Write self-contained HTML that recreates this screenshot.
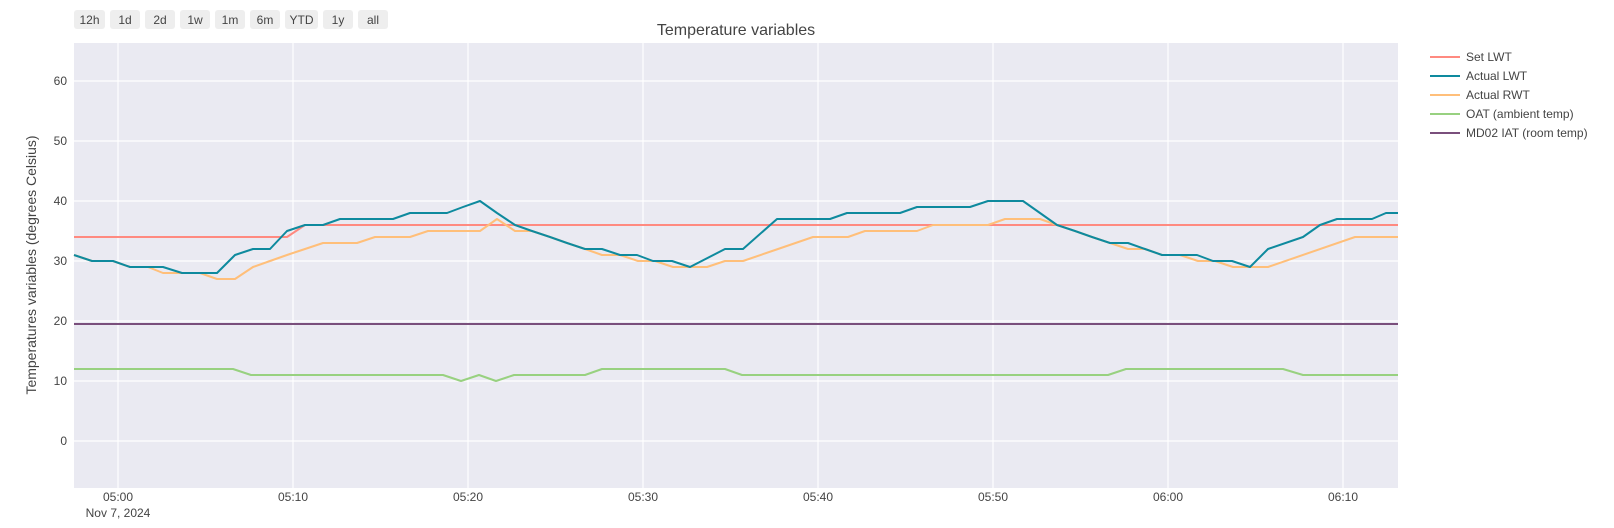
<!DOCTYPE html>
<html><head><meta charset="utf-8"><style>
body{margin:0;background:#fff;width:1614px;height:523px;overflow:hidden;font-family:"Liberation Sans","DejaVu Sans",sans-serif}
</style></head><body>
<svg width="1614" height="523" xmlns="http://www.w3.org/2000/svg" font-family="Liberation Sans, DejaVu Sans, sans-serif">
<rect x="74" y="43" width="1324" height="445" fill="#eaeaf2"/>
<g stroke="#fff" stroke-width="1.2">
<line x1="74" x2="1398" y1="81" y2="81"/><line x1="74" x2="1398" y1="141" y2="141"/><line x1="74" x2="1398" y1="201" y2="201"/><line x1="74" x2="1398" y1="261" y2="261"/><line x1="74" x2="1398" y1="321" y2="321"/><line x1="74" x2="1398" y1="381" y2="381"/><line x1="74" x2="1398" y1="441" y2="441"/>
<line y1="43" y2="488" x1="118" x2="118"/><line y1="43" y2="488" x1="293" x2="293"/><line y1="43" y2="488" x1="468" x2="468"/><line y1="43" y2="488" x1="643" x2="643"/><line y1="43" y2="488" x1="818" x2="818"/><line y1="43" y2="488" x1="993" x2="993"/><line y1="43" y2="488" x1="1168" x2="1168"/><line y1="43" y2="488" x1="1343" x2="1343"/>
</g>
<g font-size="12" fill="#444" text-anchor="end">
<text x="67" y="85">60</text><text x="67" y="145">50</text><text x="67" y="205">40</text><text x="67" y="265">30</text><text x="67" y="325">20</text><text x="67" y="385">10</text><text x="67" y="445">0</text>
</g>
<g font-size="12" fill="#444" text-anchor="middle">
<text x="118" y="501">05:00</text><text x="293" y="501">05:10</text><text x="468" y="501">05:20</text><text x="643" y="501">05:30</text><text x="818" y="501">05:40</text><text x="993" y="501">05:50</text><text x="1168" y="501">06:00</text><text x="1343" y="501">06:10</text>
<text x="118" y="517">Nov 7, 2024</text>
</g>
<text x="36" y="265" font-size="14" fill="#444" text-anchor="middle" transform="rotate(-90 36 265)">Temperatures variables (degrees Celsius)</text>
<text x="736" y="35" font-size="16" fill="#444" text-anchor="middle">Temperature variables</text>
<g font-size="12" fill="#444" text-anchor="middle">
<rect x="74" y="10" width="31" height="19" rx="3" fill="#eee"/><text x="89.5" y="24">12h</text>
<rect x="110" y="10" width="30" height="19" rx="3" fill="#eee"/><text x="125" y="24">1d</text>
<rect x="145" y="10" width="30" height="19" rx="3" fill="#eee"/><text x="160" y="24">2d</text>
<rect x="180" y="10" width="30" height="19" rx="3" fill="#eee"/><text x="195" y="24">1w</text>
<rect x="215" y="10" width="30" height="19" rx="3" fill="#eee"/><text x="230" y="24">1m</text>
<rect x="250" y="10" width="30" height="19" rx="3" fill="#eee"/><text x="265" y="24">6m</text>
<rect x="285" y="10" width="33" height="19" rx="3" fill="#eee"/><text x="301.5" y="24">YTD</text>
<rect x="323" y="10" width="30" height="19" rx="3" fill="#eee"/><text x="338" y="24">1y</text>
<rect x="358" y="10" width="30" height="19" rx="3" fill="#eee"/><text x="373" y="24">all</text>
</g>
<g fill="none" stroke-width="2" stroke-linejoin="round">
<polyline stroke="#ff8a80" points="74,237 287,237 305,225 1398,225"/>
<polyline stroke="#7a4f7c" points="74,324 1398,324"/>
<polyline stroke="#98d180" points="74,369 233,369 251,375 443,375 461,381 479,375 496,381 514,375 585,375 602,369 725,369 742,375 1108,375 1126,369 1283,369 1303,375 1398,375"/>
<polyline stroke="#ffbf7a" points="74,255 92,261 113,261 130,267 148,267 163,273 200,273 217,279 235,279 253,267 270,261 287,255 305,249 323,243 357,243 375,237 410,237 428,231 480,231 497,219 515,231 532,231 550,237 567,243 585,249 602,255 620,255 638,261 655,261 673,267 707,267 725,261 743,261 778,249 813,237 848,237 865,231 917,231 933,225 988,225 1005,219 1040,219 1057,225 1075,231 1092,237 1110,243 1128,249 1145,249 1162,255 1180,255 1198,261 1215,261 1233,267 1268,267 1355,237 1398,237"/>
<polyline stroke="#0e8a9e" points="74,255 92,261 113,261 130,267 163,267 182,273 217,273 235,255 253,249 270,249 287,231 305,225 323,225 340,219 393,219 410,213 447,213 463,207 480,201 497,213 515,225 532,231 550,237 567,243 585,249 602,249 620,255 637,255 653,261 672,261 690,267 725,249 743,249 777,219 830,219 847,213 900,213 917,207 970,207 988,201 1023,201 1040,213 1057,225 1075,231 1092,237 1110,243 1128,243 1145,249 1162,255 1197,255 1213,261 1232,261 1250,267 1268,249 1303,237 1320,225 1337,219 1372,219 1386,213 1398,213"/>
</g>
<g font-size="12" fill="#444">
<line x1="1430" x2="1460" y1="57" y2="57" stroke="#ff8a80" stroke-width="2"/><text x="1466" y="61">Set LWT</text>
<line x1="1430" x2="1460" y1="76" y2="76" stroke="#0e8a9e" stroke-width="2"/><text x="1466" y="80">Actual LWT</text>
<line x1="1430" x2="1460" y1="95" y2="95" stroke="#ffbf7a" stroke-width="2"/><text x="1466" y="99">Actual RWT</text>
<line x1="1430" x2="1460" y1="114" y2="114" stroke="#98d180" stroke-width="2"/><text x="1466" y="118">OAT (ambient temp)</text>
<line x1="1430" x2="1460" y1="133" y2="133" stroke="#7a4f7c" stroke-width="2"/><text x="1466" y="137">MD02 IAT (room temp)</text>
</g>
</svg>
</body></html>
